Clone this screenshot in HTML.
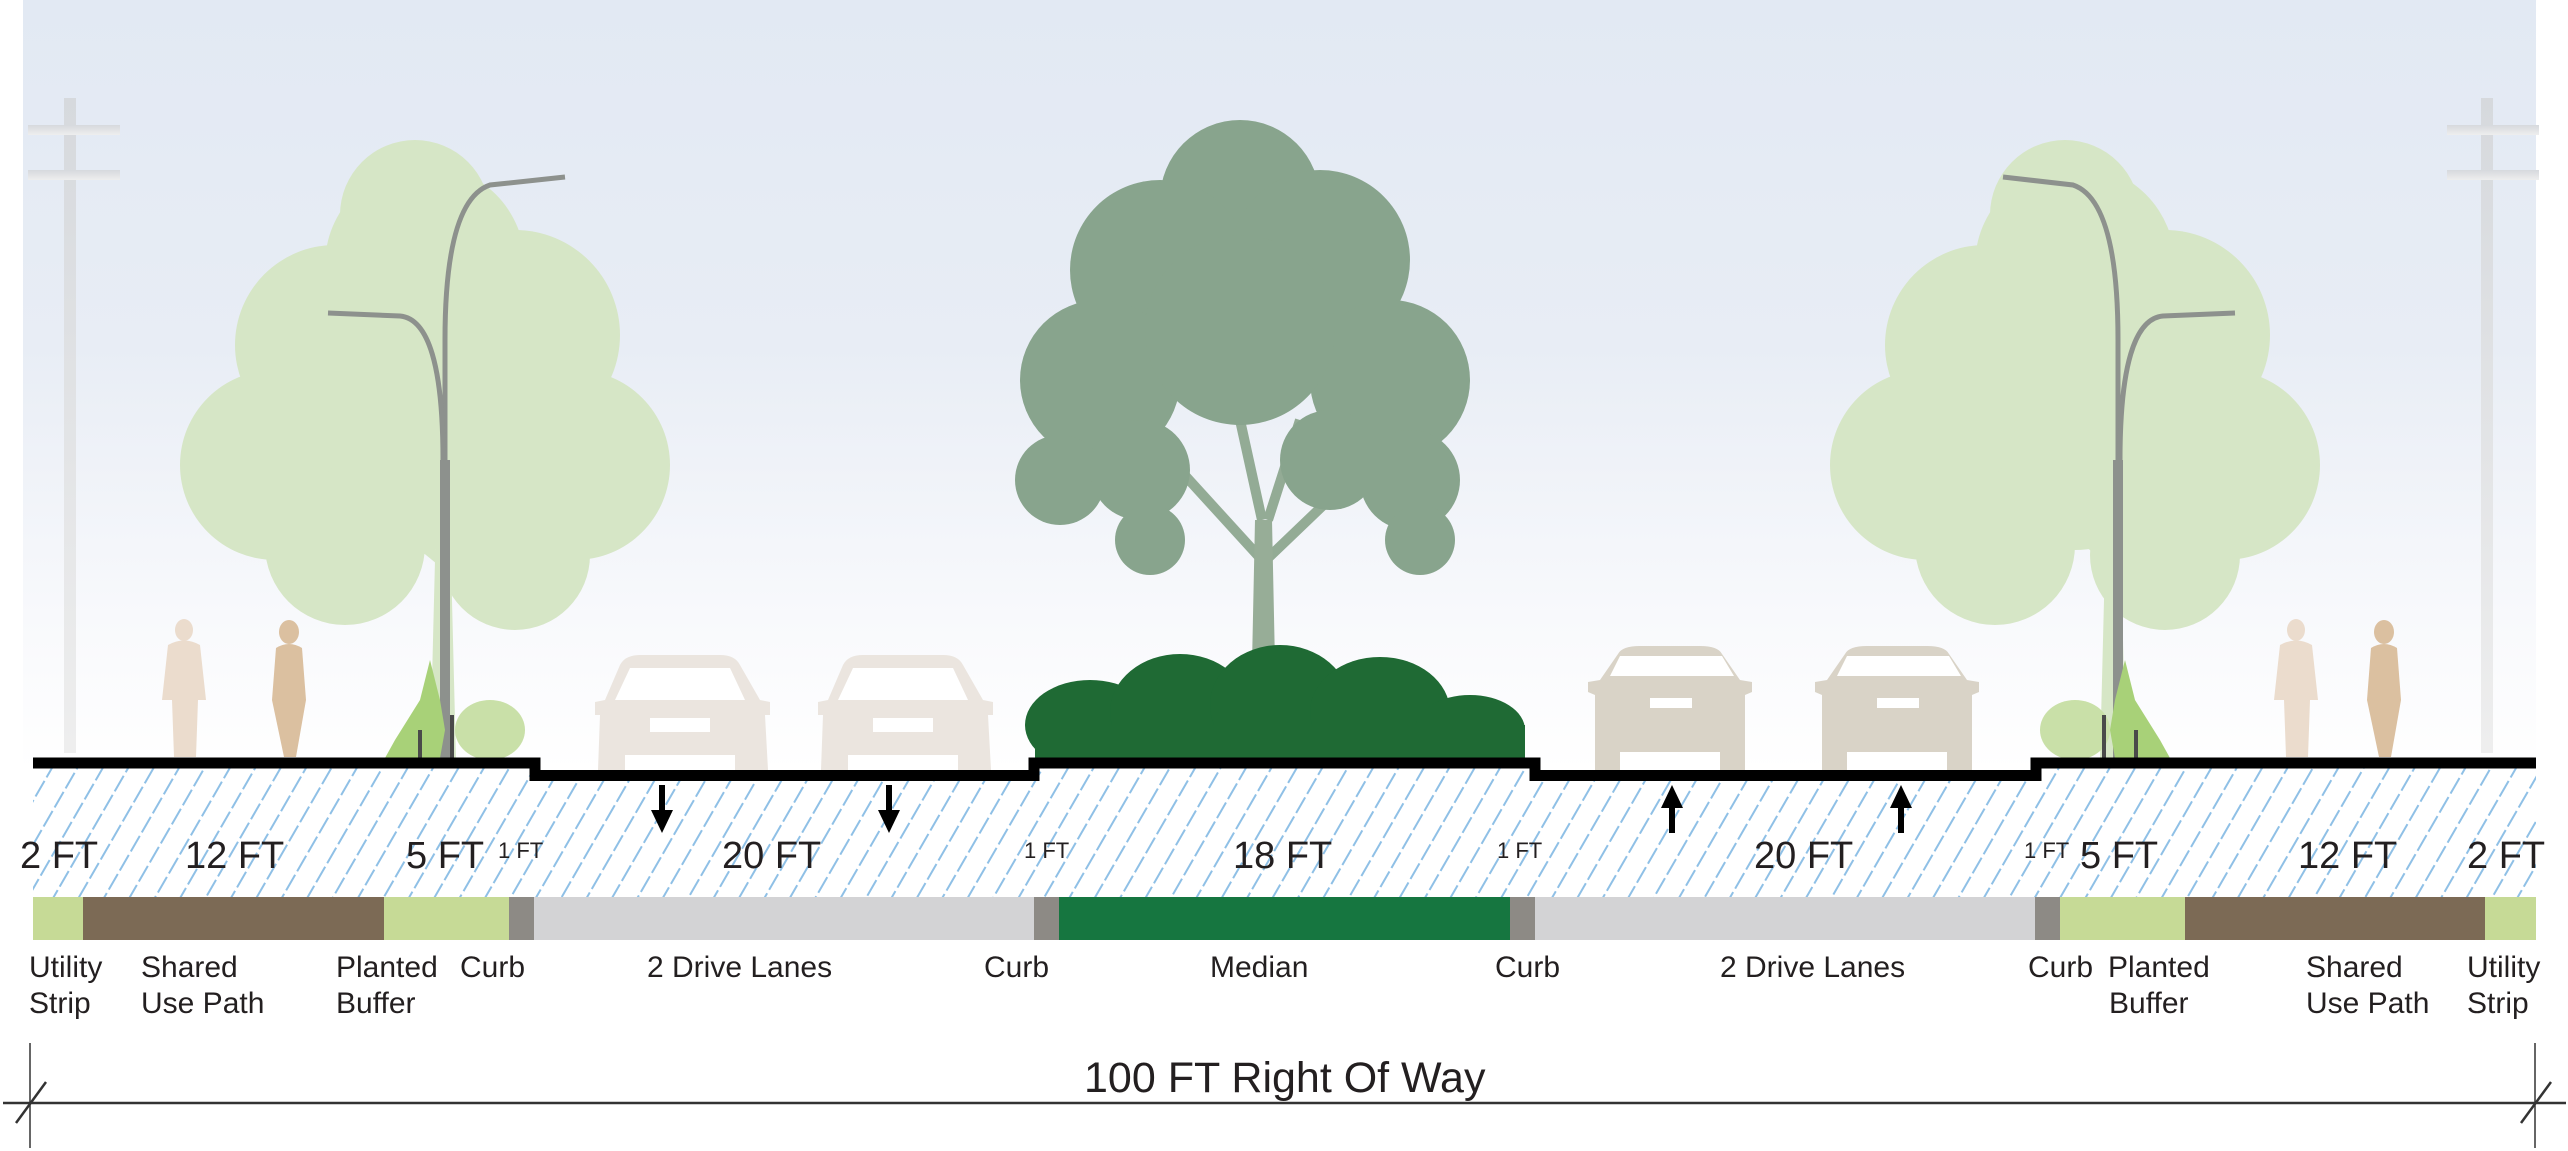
<!DOCTYPE html>
<html><head><meta charset="utf-8"><style>
html,body{margin:0;padding:0;background:#fff;}
svg{display:block;}
text{font-family:"Liberation Sans",sans-serif;fill:#231f20;}
</style></head><body>
<svg width="2568" height="1151" viewBox="0 0 2568 1151" xmlns="http://www.w3.org/2000/svg">
<defs>
<linearGradient id="sky" x1="0" y1="0" x2="0" y2="1">
<stop offset="0" stop-color="#e2e9f3"/>
<stop offset="0.45" stop-color="#e8edf5"/>
<stop offset="0.8" stop-color="#f8f9fc"/>
<stop offset="1" stop-color="#ffffff"/>
</linearGradient>
<linearGradient id="pole" x1="0" y1="0" x2="0" y2="1">
<stop offset="0" stop-color="#d6d9dd"/>
<stop offset="1" stop-color="#eeeeee"/>
</linearGradient>
<pattern id="hatch" width="22" height="22" patternUnits="userSpaceOnUse" patternTransform="rotate(30)">
<rect width="22" height="22" fill="#fff"/>
<line x1="11" y1="0" x2="11" y2="22" stroke="#8fc0e6" stroke-width="2" stroke-dasharray="12 4"/>
</pattern>
<g id="canopyL">
<circle cx="0" cy="0" r="100"/><circle cx="-90" cy="80" r="100"/><circle cx="90" cy="70" r="105"/>
<circle cx="-150" cy="200" r="95"/><circle cx="150" cy="200" r="95"/><circle cx="0" cy="170" r="115"/>
<circle cx="-80" cy="280" r="80"/><circle cx="90" cy="290" r="75"/><circle cx="-10" cy="-50" r="75"/>
</g>
</defs>
<rect x="23" y="0" width="2513" height="770" fill="url(#sky)"/>

<!-- utility poles -->
<g fill="url(#pole)">
<rect x="64" y="98" width="12" height="655"/><rect x="28" y="125" width="92" height="10"/><rect x="28" y="170" width="92" height="10"/>
<rect x="2481" y="98" width="12" height="655"/><rect x="2447" y="125" width="92" height="10"/><rect x="2447" y="170" width="92" height="10"/>
</g>

<!-- left tree -->
<g fill="#d6e6c6">
<use href="#canopyL" transform="translate(425,265)"/>
<path d="M430 760 L436 520 L450 520 L456 760 Z"/>
</g>
<g fill="none" stroke="#d6e6c6" stroke-width="10"><path d="M440 560 L330 470"/><path d="M446 560 L560 480"/></g>
<!-- right tree -->
<g fill="#d6e6c6">
<use href="#canopyL" transform="translate(2075,265)"/>
<path d="M2100 760 L2106 520 L2120 520 L2126 760 Z"/>
</g>
<g fill="none" stroke="#d6e6c6" stroke-width="10"><path d="M2110 560 L2000 470"/><path d="M2116 560 L2230 480"/></g>
<!-- streetlights -->
<g fill="none" stroke="#8d918d" stroke-width="5">
<path d="M445 760 L445 340 Q445 200 490 185 L565 177"/>
<path d="M443 460 Q443 320 400 316 L328 313"/>
<path d="M2118 760 L2118 340 Q2118 200 2073 185 L2003 177"/>
<path d="M2120 460 Q2120 320 2163 316 L2235 313"/>
</g>
<rect x="440" y="460" width="10" height="300" fill="#8d918d"/>
<rect x="2113" y="460" width="10" height="300" fill="#8d918d"/>

<!-- central tree -->
<g fill="none" stroke="#93ab95" stroke-width="10"><path d="M1262 560 L1180 470"/><path d="M1266 560 L1360 470"/><path d="M1262 520 L1240 420"/><path d="M1268 520 L1300 420"/></g>
<g fill="#88a48d">
<circle cx="1240" cy="200" r="80"/><circle cx="1160" cy="270" r="90"/><circle cx="1320" cy="260" r="90"/>
<circle cx="1100" cy="380" r="80"/><circle cx="1390" cy="380" r="80"/><circle cx="1240" cy="330" r="95"/>
<circle cx="1060" cy="480" r="45"/><circle cx="1410" cy="480" r="50"/><circle cx="1140" cy="470" r="50"/><circle cx="1330" cy="460" r="50"/>
<circle cx="1420" cy="540" r="35"/><circle cx="1150" cy="540" r="35"/>
</g>
<path d="M1250 760 L1255 520 L1272 520 L1277 760 Z" fill="#97ad97"/>
<!-- shrubs -->
<g fill="#1f6a34">
<ellipse cx="1090" cy="725" rx="65" ry="45"/><ellipse cx="1180" cy="712" rx="70" ry="58"/><ellipse cx="1280" cy="705" rx="70" ry="60"/>
<ellipse cx="1380" cy="712" rx="70" ry="55"/><ellipse cx="1470" cy="730" rx="55" ry="35"/>
<rect x="1035" y="725" width="490" height="35"/>
</g>
<!-- small shrubs near benches -->
<g fill="#c9e0a8"><ellipse cx="490" cy="730" rx="35" ry="30"/><ellipse cx="2075" cy="730" rx="35" ry="30"/></g>
<g fill="#a8d178"><path d="M395 740 L420 700 L430 660 L440 700 L445 730 L440 758 L385 758 Z"/><path d="M2160 740 L2135 700 L2125 660 L2115 700 L2110 730 L2115 758 L2170 758 Z"/></g>
<g fill="#4a4a4a"><rect x="418" y="730" width="4" height="28"/><rect x="450" y="715" width="4" height="43"/><rect x="2102" y="715" width="4" height="43"/><rect x="2134" y="730" width="4" height="28"/></g>

<!-- people -->
<g fill="#ebdccd"><ellipse cx="184" cy="630" rx="9" ry="11"/><path d="M168 645 Q184 636 200 645 L206 700 L198 700 L196 757 L174 757 L172 700 L162 700 Z"/>
<ellipse cx="2296" cy="630" rx="9" ry="11"/><path d="M2280 645 Q2296 636 2312 645 L2318 700 L2310 700 L2308 757 L2286 757 L2284 700 L2274 700 Z"/></g>
<g fill="#dbc0a0"><ellipse cx="289" cy="632" rx="10" ry="12"/><path d="M276 648 Q289 640 302 648 L306 700 L296 757 L284 757 L272 700 Z"/>
<ellipse cx="2384" cy="632" rx="10" ry="12"/><path d="M2371 648 Q2384 640 2397 648 L2401 700 L2391 757 L2379 757 L2367 700 Z"/></g>

<!-- cars -->
<g fill="#ebe5df">
<path d="M620 665 Q625 655 640 655 L720 655 Q735 655 740 665 L760 700 L770 702 L770 715 L765 715 L768 770 L598 770 L600 715 L595 715 L595 702 L605 700 Z"/>
<path d="M843 665 Q848 655 863 655 L943 655 Q958 655 963 665 L983 700 L993 702 L993 715 L988 715 L991 770 L821 770 L823 715 L818 715 L818 702 L828 700 Z"/>
</g>
<g fill="#d9d3c7">
<path d="M1618 654 Q1622 646 1640 646 L1700 646 Q1718 646 1722 654 L1740 680 L1752 682 L1752 692 L1745 695 L1745 770 L1595 770 L1595 695 L1588 692 L1588 682 L1600 680 Z"/>
<path d="M1845 654 Q1849 646 1867 646 L1927 646 Q1945 646 1949 654 L1967 680 L1979 682 L1979 692 L1972 695 L1972 770 L1822 770 L1822 695 L1815 692 L1815 682 L1827 680 Z"/>
</g>
<g fill="#fff">
<path d="M630 668 L730 668 L745 700 L615 700 Z"/><path d="M853 668 L953 668 L968 700 L838 700 Z"/>
<path d="M1620 656 L1722 656 L1734 676 L1610 676 Z"/><path d="M1847 656 L1949 656 L1961 676 L1837 676 Z"/>
<rect x="1650" y="698" width="42" height="10"/><rect x="1877" y="698" width="42" height="10"/>
<rect x="650" y="718" width="60" height="14"/><rect x="873" y="718" width="60" height="14"/>
<rect x="1620" y="752" width="100" height="18"/><rect x="1847" y="752" width="100" height="18"/>
<rect x="625" y="755" width="110" height="15"/><rect x="848" y="755" width="110" height="15"/>
</g>

<!-- hatched section -->
<path d="M33 768 L534 768 L534 781 L1034 781 L1034 768 L1535 768 L1535 781 L2036 781 L2036 768 L2536 768 L2536 897 L33 897 Z" fill="url(#hatch)"/>
<!-- ground line -->
<path d="M33 763 L535 763 L535 775.5 L1034 775.5 L1034 763 L1535 763 L1535 775.5 L2036 775.5 L2036 763 L2536 763" fill="none" stroke="#000" stroke-width="11"/>

<!-- arrows -->
<g fill="#000">
<rect x="659" y="785" width="6" height="30"/><path d="M651 810 L673 810 L662 833 Z"/>
<rect x="886" y="785" width="6" height="30"/><path d="M878 810 L900 810 L889 833 Z"/>
<rect x="1669" y="803" width="6" height="30"/><path d="M1661 808 L1683 808 L1672 785 Z"/>
<rect x="1898" y="803" width="6" height="30"/><path d="M1890 808 L1912 808 L1901 785 Z"/>
</g>

<!-- color bar -->
<g>
<rect x="33" y="897" width="50" height="43" fill="#c6da96"/>
<rect x="83" y="897" width="301" height="43" fill="#7c6a55"/>
<rect x="384" y="897" width="125" height="43" fill="#c6da96"/>
<rect x="509" y="897" width="25" height="43" fill="#8d8a85"/>
<rect x="534" y="897" width="500" height="43" fill="#d3d3d5"/>
<rect x="1034" y="897" width="25" height="43" fill="#8d8a85"/>
<rect x="1059" y="897" width="451" height="43" fill="#167640"/>
<rect x="1510" y="897" width="25" height="43" fill="#8d8a85"/>
<rect x="1535" y="897" width="500" height="43" fill="#d3d3d5"/>
<rect x="2035" y="897" width="25" height="43" fill="#8d8a85"/>
<rect x="2060" y="897" width="125" height="43" fill="#c6da96"/>
<rect x="2185" y="897" width="300" height="43" fill="#7c6a55"/>
<rect x="2485" y="897" width="51" height="43" fill="#c6da96"/>
</g>

<!-- ft labels -->
<g font-size="38">
<text x="20" y="868">2 FT</text>
<text x="185" y="868">12 FT</text>
<text x="406" y="868">5 FT</text>
<text x="722" y="868">20 FT</text>
<text x="1233" y="868">18 FT</text>
<text x="1754" y="868">20 FT</text>
<text x="2080" y="868">5 FT</text>
<text x="2298" y="868">12 FT</text>
<text x="2467" y="868">2 FT</text>
</g>
<g font-size="22">
<text x="498" y="858">1 FT</text>
<text x="1024" y="858">1 FT</text>
<text x="1497" y="858">1 FT</text>
<text x="2024" y="858">1 FT</text>
</g>

<!-- bottom labels -->
<g font-size="30">
<text x="29" y="977">Utility</text><text x="29" y="1013">Strip</text>
<text x="141" y="977">Shared</text><text x="141" y="1013">Use Path</text>
<text x="336" y="977">Planted</text><text x="336" y="1013">Buffer</text>
<text x="460" y="977">Curb</text>
<text x="647" y="977">2 Drive Lanes</text>
<text x="984" y="977">Curb</text>
<text x="1210" y="977">Median</text>
<text x="1495" y="977">Curb</text>
<text x="1720" y="977">2 Drive Lanes</text>
<text x="2028" y="977">Curb</text><text x="2108" y="977">Planted</text><text x="2109" y="1013">Buffer</text>
<text x="2306" y="977">Shared</text><text x="2306" y="1013">Use Path</text>
<text x="2467" y="977">Utility</text><text x="2467" y="1013">Strip</text>
</g>

<!-- dimension line -->
<g stroke="#333" fill="none">
<line x1="3" y1="1103" x2="2566" y2="1103" stroke-width="2.5"/>
<line x1="30" y1="1043" x2="30" y2="1148" stroke-width="1.5"/>
<line x1="2535" y1="1043" x2="2535" y2="1148" stroke-width="1.5"/>
<line x1="16" y1="1123" x2="46" y2="1082" stroke-width="2.5"/>
<line x1="2521" y1="1123" x2="2551" y2="1082" stroke-width="2.5"/>
</g>
<text x="1084" y="1092" font-size="43">100 FT Right Of Way</text>
</svg>
</body></html>
